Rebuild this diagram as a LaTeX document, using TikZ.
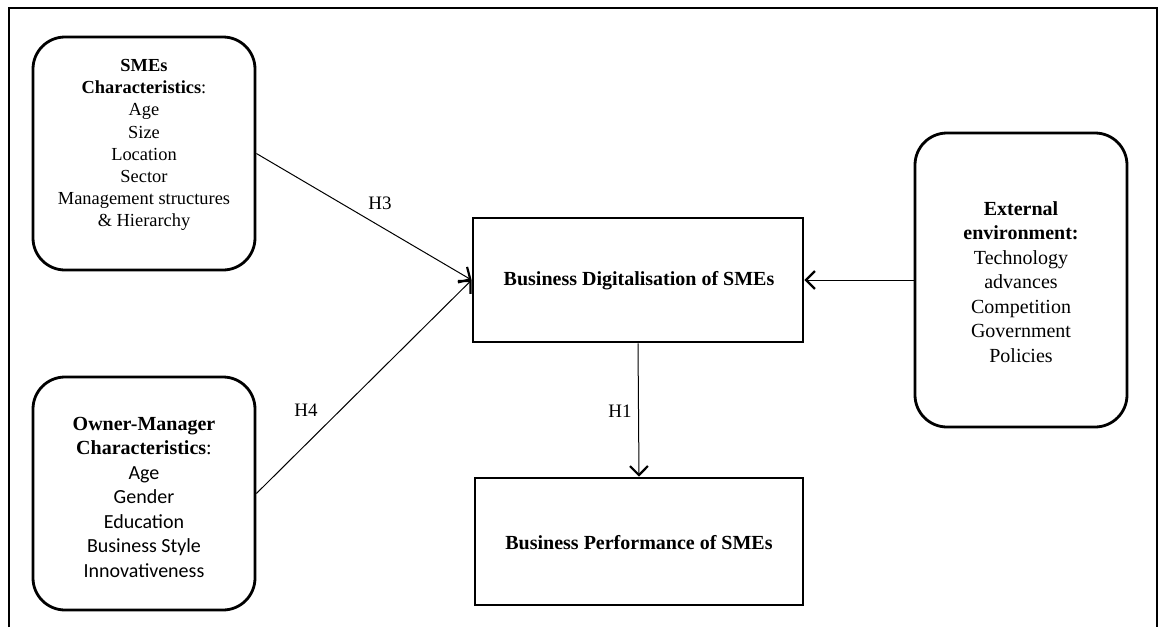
\documentclass[tikz,border=0pt]{standalone}
\usepackage{fontspec}
\setmainfont{Liberation Serif}
\newfontfamily\sanslist{Carlito}
\usetikzlibrary{arrows.meta}
\begin{document}
\begin{tikzpicture}[x=1pt,y=-1pt,
  roundbox/.style={draw, line width=2.8pt, rounded corners=32pt, inner sep=0pt},
  squarebox/.style={draw, line width=2.8pt, inner sep=0pt},
  boxtext/.style={align=center, inner sep=0pt, font=\fontsize{20}{24.5}\selectfont},
  smalltext/.style={align=center, inner sep=0pt, font=\fontsize{18.4}{22.2}\selectfont},
  hlabel/.style={inner sep=0pt, font=\fontsize{19}{22}\selectfont},
  link/.style={line width=1pt, -{Straight Barb[length=9pt, width=18pt, line width=2.2pt]}}]
\useasboundingbox (0,0) rectangle (1160,627);
% outer frame, open at the bottom
\draw[line width=2.2pt] (9,627) -- (9,8) -- (1157,8) -- (1157,627);

% boxes
\node[roundbox, minimum width=222pt, minimum height=233pt] (smes) at (144,153.5) {};
\node[roundbox, minimum width=222pt, minimum height=233pt] (owner) at (144,493.5) {};
\node[roundbox, minimum width=212pt, minimum height=294pt] (ext) at (1021,280) {};
\node[squarebox, minimum width=330pt, minimum height=124pt] (dig) at (638,280) {};
\node[squarebox, minimum width=328pt, minimum height=127pt] (perf) at (639,541.5) {};

% box contents
\node[smalltext] (smestext) at (144,145) {\textbf{SMEs}\\\textbf{Characteristics}:\\Age\\Size\\Location\\Sector\\Management structures\\\& Hierarchy};
\node[boxtext] (ownertext) at (144,497) {\textbf{Owner-Manager}\\\textbf{Characteristics}:\\{\sanslist Age}\\{\sanslist Gender}\\{\sanslist Education}\\{\sanslist Business Style}\\{\sanslist Innovativeness}};
\node[boxtext] (exttext) at (1021,282) {\textbf{External}\\\textbf{environment:}\\Technology\\advances\\Competition\\Government\\Policies};
\node[boxtext] (digtext) at (639,281) {\textbf{Business Digitalisation of SMEs}};
\node[boxtext] (perftext) at (639,543) {\textbf{Business Performance of SMEs}};

% connectors
\draw[link] (smes.east) -- (dig.west);
\draw[link] (owner.east) -- (dig.west);
\draw[link] (ext.west) -- (dig.east);
\draw[link] (dig.south) -- (perf.north);

% hypothesis labels
\node[hlabel] (h3) at (380,203) {H3};
\node[hlabel] (h4) at (306,410) {H4};
\node[hlabel] (h1) at (620,411) {H1};
\end{tikzpicture}
\end{document}
